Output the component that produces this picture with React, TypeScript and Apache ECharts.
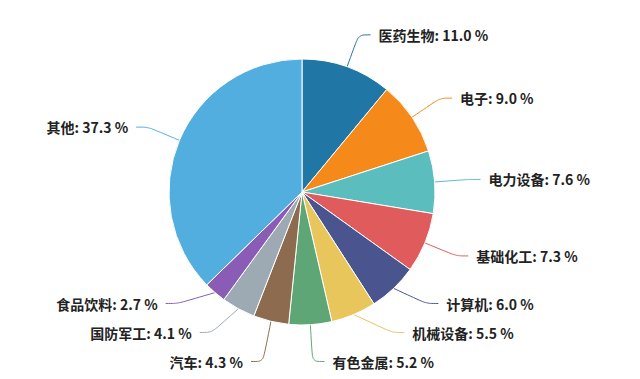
import React, { useEffect, useRef } from "react";
import * as echarts from "echarts";

const categories = ["医药生物", "电子", "电力设备", "基础化工", "计算机", "机械设备", "有色金属", "汽车", "国防军工", "食品饮料", "其他"];
const values = [11.0, 9.0, 7.6, 7.3, 6.0, 5.5, 5.2, 4.3, 4.1, 2.7, 37.3];
const colors = ["#2077a5", "#f5891a", "#5cbdbf", "#e05c5c", "#4a5590", "#e8c65c", "#5fa676", "#8c6b4f", "#9eaab3", "#8a5cb5", "#52aedf"];

const CX = 302;
const CY = 192;
const R = 133;
const L1 = 34;
const L2 = 12;
const GAP = 8;
const LH = 29;
const VIEW_H = 379;
const BOTTOM_PAD = 3;

type Lab = { sin: number; cos: number; dir: number; y0: number; y: number };

function computeLabels(): Lab[] {
  const total = values.reduce((a, b) => a + b, 0);
  let acc = 0;
  const items: Lab[] = values.map((v) => {
    const mid = ((acc + v / 2) / total) * Math.PI * 2;
    acc += v;
    const sin = Math.sin(mid);
    const cos = Math.cos(mid);
    const y0 = CY - (R + L1) * cos;
    return { sin, cos, dir: sin >= 0 ? 1 : -1, y0, y: y0 };
  });
  [1, -1].forEach((side) => {
    const list = items.filter((it) => it.dir === side).sort((a, b) => a.y0 - b.y0);
    type Cl = { members: Lab[]; sum: number };
    const clusters: Cl[] = [];
    const top = (c: Cl) => c.sum / c.members.length - ((c.members.length - 1) * LH) / 2;
    list.forEach((it) => {
      clusters.push({ members: [it], sum: it.y0 });
      while (clusters.length > 1) {
        const b = clusters[clusters.length - 1];
        const a = clusters[clusters.length - 2];
        if (top(a) + a.members.length * LH > top(b)) {
          clusters.pop();
          clusters.pop();
          clusters.push({ members: a.members.concat(b.members), sum: a.sum + b.sum });
        } else break;
      }
    });
    clusters.forEach((c) => {
      const t = top(c);
      c.members.forEach((m, k) => (m.y = t + k * LH));
    });
    for (let k = list.length - 1; k >= 0; k--) {
      const maxY = k === list.length - 1 ? VIEW_H - LH / 2 - BOTTOM_PAD : list[k + 1].y - LH;
      if (list[k].y > maxY) list[k].y = maxY;
    }
    for (let k = 0; k < list.length; k++) {
      const minY = k === 0 ? LH / 2 : list[k - 1].y + LH;
      if (list[k].y < minY) list[k].y = minY;
    }
  });
  return items;
}

export default function App() {
  const ref = useRef<HTMLDivElement>(null);
  useEffect(() => {
    document.body.style.margin = "0";
    const chart = echarts.init(ref.current!, null, { renderer: "svg" });
    const labs = computeLabels();
    chart.setOption({
      animation: false,
      color: colors,
      series: [
        {
          type: "pie",
          center: [CX, CY],
          radius: R,
          startAngle: 90,
          data: categories.map((c, i) => ({ name: c, value: values[i] })),
          itemStyle: { borderColor: "#fff", borderWidth: 1 },
          label: {
            formatter: (p: any) => `${p.name}: ${p.value.toFixed(1)} %`,
            fontFamily: "Noto Sans CJK SC",
            fontSize: 14,
            fontWeight: "bold",
            color: "#222",
          },
          labelLine: { length: L1, length2: L2, smooth: true },
          labelLayout: (params: any) => {
            const lab = labs[params.dataIndex];
            if (!lab) return {};
            const Rr = R + L1;
            const dy = Math.abs(lab.y - CY);
            const bx =
              dy < Rr ? CX + lab.dir * Math.sqrt(Rr * Rr - dy * dy) : CX + lab.dir * Rr * Math.abs(lab.sin);
            const ex = bx + lab.dir * L2;
            const p0 = [CX + R * lab.sin, CY - R * lab.cos];
            return {
              x: ex + lab.dir * GAP,
              y: lab.y,
              align: lab.dir > 0 ? "left" : "right",
              verticalAlign: "middle",
              labelLinePoints: [p0, [bx, lab.y], [ex, lab.y]],
            };
          },
        },
      ],
    });
    return () => chart.dispose();
  }, []);
  return <div ref={ref} style={{ width: 640, height: 379 }} />;
}
